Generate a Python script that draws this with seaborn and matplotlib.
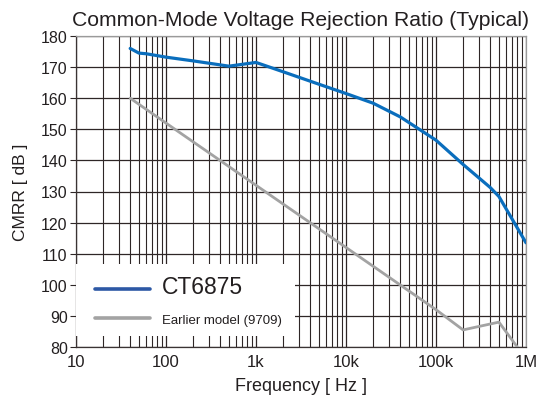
import numpy as np
import pandas as pd
import matplotlib
matplotlib.use("Agg")
import matplotlib.pyplot as plt
import seaborn as sns
from matplotlib.ticker import FixedLocator, NullFormatter
from matplotlib.patches import Rectangle

# ---- data ----
ct_freq = [40, 50, 60, 100, 200, 500, 1000, 2000, 5000, 10000, 20000, 40000,
           100000, 200000, 400000, 500000, 1000000]
ct_cmrr = [176, 174.5, 174.3, 173.2, 172, 170.3, 171.5, 168.5, 164.5, 161.5,
           158.4, 154, 146.5, 138.7, 131.3, 128.4, 113.5]

old_freq = [40, 100, 1000, 10000, 100000, 200000, 500000, 800000]
old_cmrr = [160, 152, 132, 112, 92, 85.5, 88, 80]

series_names = ["CT6875", "Earlier model (9709)"]
x_ticks = [10, 100, 1000, 10000, 100000, 1000000]
x_ticklabels = ["10", "100", "1k", "10k", "100k", "1M"]
y_ticks = list(range(80, 181, 10))

df = pd.concat([
    pd.DataFrame({"freq": ct_freq, "cmrr": ct_cmrr, "model": series_names[0]}),
    pd.DataFrame({"freq": old_freq, "cmrr": old_cmrr, "model": series_names[1]}),
], ignore_index=True)

sns.set_style("white")
plt.rcParams["font.family"] = ["Liberation Sans", "DejaVu Sans"]

fig = plt.figure(figsize=(5.38, 4.02), dpi=100)
ax = fig.add_axes([76 / 538, 1 - 348 / 402, 450 / 538, 311 / 402])

palette = {series_names[0]: "#0a6ebd", series_names[1]: "#a3a3a3"}
sns.lineplot(data=df, x="freq", y="cmrr", hue="model", palette=palette,
             ax=ax, linewidth=2.3, sort=False, zorder=3)
for ln in ax.get_lines():
    if ln.get_color() == "#a3a3a3":
        ln.set_linewidth(2.0)

ax.set_xscale("log")
ax.set_xlim(10, 1000000)
ax.set_ylim(80, 180)

minor = []
for d in [10, 100, 1000, 10000, 100000]:
    minor += [d * k for k in range(2, 10)]
ax.xaxis.set_major_locator(FixedLocator(x_ticks))
ax.set_xticklabels(x_ticklabels)
ax.xaxis.set_minor_locator(FixedLocator(minor))
ax.xaxis.set_minor_formatter(NullFormatter())
ax.yaxis.set_major_locator(FixedLocator(y_ticks))

gridc = "#2e2626"
ax.grid(True, which="major", axis="both", color=gridc, linewidth=0.9, zorder=1)
ax.grid(True, which="minor", axis="x", color=gridc, linewidth=0.8, zorder=1)
ax.set_axisbelow(True)

ax.tick_params(axis="y", which="major", direction="out", length=4, width=0.8,
               color=gridc, labelsize=11.5, pad=2, left=True)
ax.tick_params(axis="x", which="both", length=0, labelsize=12, pad=5)

for s in ["left", "bottom"]:
    ax.spines[s].set_color("#3a3333")
    ax.spines[s].set_linewidth(0.9)
for s in ["top", "right"]:
    ax.spines[s].set_color("#9a9a9a")
    ax.spines[s].set_linewidth(0.9)

ax.set_xlabel("Frequency [ Hz ]", fontsize=13, labelpad=6, color="#231f20")
ax.set_ylabel("CMRR [ dB ]", fontsize=12.5, labelpad=9, color="#231f20")
ax.set_title("Common-Mode Voltage Rejection Ratio (Typical)", fontsize=15.2,
             color="#231f20", pad=8)
for lab in ax.get_xticklabels() + ax.get_yticklabels():
    lab.set_color("#231f20")

# white legend background panel
ax.add_patch(Rectangle((0.0, 0.035), 0.487, 0.232, transform=ax.transAxes,
                       facecolor="white", edgecolor="none", zorder=4))

leg = ax.legend(loc="center left", bbox_to_anchor=(0.042, 0.1495),
                frameon=False, fontsize=9.5,
                handlelength=4.2, handletextpad=0.85, labelspacing=1.15,
                borderpad=0.0, borderaxespad=0.0)
leg.set_zorder(5)
texts = leg.get_texts()
texts[0].set_fontsize(16.5)
for t in texts:
    t.set_color("#231f20")
hl = leg.get_lines()
hl[0].set_color("#2d58a5")
hl[0].set_linewidth(2.6)
hl[1].set_color("#a3a3a3")
hl[1].set_linewidth(2.6)

fig.savefig("out.png", dpi=100)
